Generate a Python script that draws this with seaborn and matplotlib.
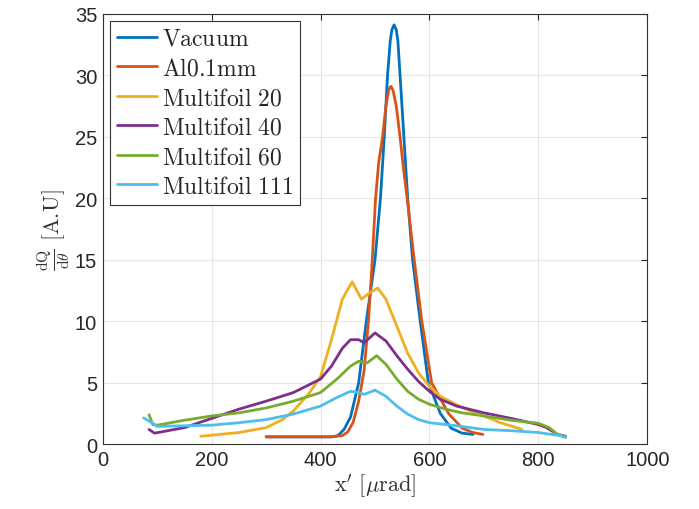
import numpy as np
import pandas as pd
import matplotlib
matplotlib.use("Agg")
import matplotlib.pyplot as plt
import seaborn as sns

# valores (x' em µrad, dQ/dθ em A.U)
vacuum_x = [300, 420, 432, 443, 455, 470, 484, 500, 510, 517, 523, 528, 531, 535, 539, 542, 546, 553, 560, 569, 583, 598, 620, 640, 660, 680]
vacuum_y = [0.6, 0.6, 0.7, 1.2, 2.2, 5.0, 10.0, 15.0, 20.0, 25.0, 30.0, 32.8, 33.7, 34.1, 33.7, 32.8, 30.0, 25.0, 20.0, 15.0, 10.0, 5.0, 2.5, 1.3, 0.9, 0.8]

al_x = [300, 420, 440, 450, 460, 470, 480, 488, 495, 501, 507, 514, 520, 525, 529, 533, 539, 546, 552, 559, 572, 586, 604, 635, 660, 680, 698]
al_y = [0.6, 0.6, 0.7, 1.0, 1.8, 3.5, 6.0, 10.0, 15.0, 20.0, 23.0, 25.0, 27.5, 28.8, 29.1, 28.8, 27.5, 25.0, 22.5, 20.0, 15.0, 10.0, 5.0, 2.5, 1.3, 0.95, 0.8]

mf20_x = [180, 250, 300, 330, 350, 380, 400, 420, 440, 458, 475, 490, 505, 520, 540, 560, 580, 600, 620, 650, 680, 700, 730, 760, 770]
mf20_y = [0.65, 0.95, 1.35, 2.0, 2.7, 4.2, 5.5, 8.5, 11.8, 13.2, 11.8, 12.3, 12.7, 11.8, 9.6, 7.4, 5.8, 4.7, 3.9, 3.2, 2.6, 2.3, 1.75, 1.35, 1.2]

mf40_x = [85, 95, 150, 200, 250, 300, 350, 400, 420, 440, 455, 470, 480, 500, 520, 540, 560, 580, 600, 620, 650, 700, 750, 800, 815, 835, 850]
mf40_y = [1.2, 0.9, 1.35, 2.1, 2.85, 3.5, 4.2, 5.3, 6.35, 7.8, 8.5, 8.5, 8.25, 9.05, 8.4, 7.2, 6.1, 5.1, 4.3, 3.65, 3.1, 2.55, 2.1, 1.6, 1.35, 0.8, 0.65]

mf60_x = [85, 92, 100, 150, 200, 250, 300, 350, 400, 430, 455, 470, 485, 503, 520, 540, 560, 580, 600, 630, 660, 700, 750, 800, 820, 835, 850]
mf60_y = [2.4, 1.6, 1.55, 1.95, 2.3, 2.55, 2.95, 3.5, 4.2, 5.3, 6.35, 6.75, 6.6, 7.2, 6.5, 5.3, 4.3, 3.65, 3.25, 2.85, 2.55, 2.3, 1.95, 1.7, 1.35, 0.8, 0.6]

mf111_x = [75, 90, 100, 150, 200, 250, 300, 350, 400, 430, 455, 470, 480, 500, 520, 540, 560, 580, 600, 650, 700, 750, 800, 840, 850]
mf111_y = [2.15, 1.75, 1.45, 1.5, 1.55, 1.75, 2.0, 2.45, 3.1, 3.8, 4.3, 4.2, 4.05, 4.4, 3.9, 3.1, 2.45, 2.0, 1.75, 1.5, 1.2, 1.1, 0.95, 0.7, 0.55]

rotulos = ["Vacuum", "Al0.1mm", "Multifoil 20", "Multifoil 40", "Multifoil 60", "Multifoil 111"]
cores = ["#0072BD", "#D95319", "#EDB120", "#7E2F8E", "#77AC30", "#4DBEEE"]
series = [(vacuum_x, vacuum_y), (al_x, al_y), (mf20_x, mf20_y),
          (mf40_x, mf40_y), (mf60_x, mf60_y), (mf111_x, mf111_y)]

xticks = [0, 200, 400, 600, 800, 1000]
yticks = [0, 5, 10, 15, 20, 25, 30, 35]


def tex(s):
    # texto em estilo LaTeX (Computer Modern)
    return r"$\mathrm{" + s.replace(" ", r"\ ") + "}$"


sns.set_style("whitegrid")
plt.rcParams["font.family"] = ["Liberation Sans", "DejaVu Sans"]
plt.rcParams["mathtext.fontset"] = "cm"

fig = plt.figure(figsize=(6.99, 5.10), dpi=100)
ax = fig.add_axes([0.147, 0.127, 0.779, 0.844])

for (xs, ys), rot, cor in zip(series, rotulos, cores):
    df = pd.DataFrame({"x": xs, "y": ys})
    sns.lineplot(data=df, x="x", y="y", ax=ax, color=cor, lw=2,
                 label=tex(rot), estimator=None, sort=False)

ax.set_xlim(0, 1000)
ax.set_ylim(0, 35)
ax.set_xticks(xticks)
ax.set_yticks(yticks)
ax.tick_params(axis="both", labelsize=14.5, direction="in", length=4,
               top=True, right=True, colors="#262626", pad=4)
ax.grid(True, color="#e6e6e6", lw=0.8)
for sp in ax.spines.values():
    sp.set_color("#333333")
    sp.set_linewidth(0.8)

ax.set_xlabel(r"$\mathrm{x}'\ [\mu\mathrm{rad}]$", fontsize=16, color="#333333", labelpad=2)
ax.set_ylabel(r"$\frac{\mathrm{dQ}}{\mathrm{d}\theta}\ \mathrm{[A.\!U]}$", fontsize=16,
              color="#333333", labelpad=2)

leg = ax.legend(loc="upper left", fontsize=17, frameon=True, fancybox=False,
                edgecolor="#333333", framealpha=1, handlelength=1.7,
                handletextpad=0.2, borderpad=0.3, labelspacing=0.32,
                borderaxespad=0.3)
leg.get_frame().set_linewidth(0.8)

fig.savefig("out.png", dpi=100)
